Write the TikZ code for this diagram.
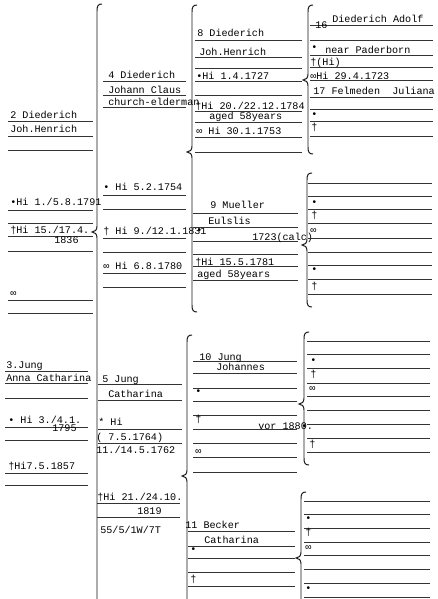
\documentclass[tikz,border=0pt]{standalone}
\usepackage{fontspec}
\usepackage{xcolor}
\newfontfamily\typer{Liberation Mono}

\begin{document}
\begin{tikzpicture}[x=0.025cm, y=-0.025cm,
	entry/.style={anchor=base west, inner sep=0pt, text=black, font=\typer\fontsize{7.2}{8}\selectfont},
	rule/.style={line width=0.45pt, color=black!80},
	brace/.style={line width=0.7pt, color=black!90}]
	\useasboundingbox[fill=white] (0,0) rectangle (437,599);

	% Braces: x, top, tip, bottom
	\foreach \bx/\bt/\bm/\bb in {97/4/232/620, 192/5/152/312, 187/335/476/620,
		308/5/80/154, 307/173/245/307, 304/332/404/465, 301/492/558/625}
		\draw[brace] ({\bx+5},\bt) .. controls ({\bx+1},\bt) and (\bx,{\bt+2}) .. (\bx,{\bt+7})
			-- (\bx,{\bm-6}) .. controls (\bx,{\bm-2}) and ({\bx-2},\bm) .. ({\bx-5},\bm)
			.. controls ({\bx-2},\bm) and (\bx,{\bm+2}) .. (\bx,{\bm+6})
			-- (\bx,{\bb-7}) .. controls (\bx,{\bb-2}) and ({\bx+1},\bb) .. ({\bx+5},\bb);

	\begin{scope}
		% Column 1: person 2 and person 3
		\foreach \y in {121,136,150,210,223,236,251,300,313}
			\draw[rule] (8,\y) -- (93,\y);
		\foreach \y in {371,383,398,427,440,473,485}
			\draw[rule] (5,\y) -- (88,\y);

		\node[entry] (p2a) at (10,118) {2 Diederich};
		\node[entry] (p2b) at (10,132) {Joh.Henrich};
		\node[entry] (p2c) at (10,205) {•Hi 1./5.8.1791};
		\node[entry] (p2d) at (10,233) {†Hi 15./17.4.};
		\node[entry] (p2e) at (54,243) {1836};
		\node[entry] (p2f) at (10,296) {∞};

		\node[entry] (p3a) at (6,368) {3.Jung};
		\node[entry] (p3b) at (6,381) {Anna Catharina};
		\node[entry] (p3c) at (8,423) {• Hi 3./4.1.};
		\node[entry] (p3d) at (52,431) {1795};
		\node[entry] (p3e) at (8,469) {†Hi7.5.1857};
	\end{scope}

	\begin{scope}
		% Column 2: persons 4 and 5
		\foreach \y in {81,95,107,195,209,238,252,273,287}
			\draw[rule] (103,\y) -- (186,\y);
		\foreach \y in {384,400,429,443}
			\draw[rule] (98,\y) -- (182,\y);
		\foreach \y in {503,517}
			\draw[rule] (97,\y) -- (180,\y);

		\node[entry] (p4a) at (108,78) {4 Diederich};
		\node[entry] (p4b) at (108,93) {Johann Claus};
		\node[entry] (p4c) at (108,105) {church-elderman};
		\node[entry] (p4d) at (103,190) {• Hi 5.2.1754};
		\node[entry] (p4e) at (103,234) {† Hi 9./12.1.1831};
		\node[entry] (p4f) at (103,269) {∞ Hi 6.8.1780};

		\node[entry] (p5a) at (102,382) {5 Jung};
		\node[entry] (p5b) at (108,397) {Catharina};
		\node[entry] (p5c) at (98,425) {* Hi};
		\node[entry] (p5d) at (96,440) {( 7.5.1764)};
		\node[entry] (p5e) at (96,453) {11./14.5.1762};
		\node[entry] (p5f) at (97,500) {†Hi 21./24.10.};
		\node[entry] (p5g) at (137,514) {1819};
		\node[entry] (p5h) at (100,533) {55/5/1W/7T};
	\end{scope}

	\begin{scope}
		% Column 3: persons 8 to 11
		\foreach \y in {40,57,68,81,95,111,122,137,152}
			\draw[rule] (195,\y) -- (302,\y);
		\foreach \y in {213,227,241,254,266,280}
			\draw[rule] (193,\y) -- (298,\y);
		\foreach \y in {361,373,388,401,415,429,443,457,472}
			\draw[rule] (193,\y) -- (297,\y);
		\foreach \y in {531,546,558,572,586}
			\draw[rule] (188,\y) -- (295,\y);

		\node[entry] (p8a) at (197,36) {8 Diederich};
		\node[entry] (p8b) at (199,55) {Joh.Henrich};
		\node[entry] (p8c) at (196,79) {•Hi 1.4.1727};
		\node[entry] (p8d) at (195,109) {†Hi 20./22.12.1784};
		\node[entry] (p8e) at (209,119) {aged 58years};
		\node[entry] (p8f) at (196,134) {∞ Hi 30.1.1753};

		\node[entry] (p9a) at (210,208) {9 Mueller};
		\node[entry] (p9b) at (208,224) {Eulslis};
		\node[entry] (p9c) at (196,233) {•};
		\node[entry] (p9d) at (252,240) {1723(calc)};
		\node[entry] (p9e) at (195,265) {†Hi 15.5.1781};
		\node[entry] (p9f) at (197,277) {aged 58years};

		\node[entry] (p10a) at (199,360) {10 Jung};
		\node[entry] (p10b) at (216,370) {Johannes};
		\node[entry] (p10c) at (195,394) {•};
		\node[entry] (p10d) at (195,422) {†};
		\node[entry] (p10e) at (258,429) {vor 1880.};
		\node[entry] (p10f) at (195,454) {∞};

		\node[entry] (p11a) at (185,528) {11 Becker};
		\node[entry] (p11b) at (204,543) {Catharina};
		\node[entry] (p11c) at (190,552) {•};
		\node[entry] (p11d) at (190,582) {†};
	\end{scope}

	\begin{scope}
		% Column 4: persons 16 to 23
		\foreach \y in {25,40,55,67,80,97,109,121,136}
			\draw[rule] (310,\y) -- (433,\y);
		\foreach \y in {183,196,209,223,238,252,265,279,294}
			\draw[rule] (308,\y) -- (432,\y);
		\foreach \y in {341,354,368,383,396,410,424,438,452}
			\draw[rule] (307,\y) -- (430,\y);
		\foreach \y in {501,514,528,542,555,569,583,597}
			\draw[rule] (304,\y) -- (430,\y);

		\node[entry] (p16a) at (315,28) {16};
		\node[entry] (p16b) at (332,22) {Diederich Adolf};
		\node[entry] (p16c) at (311,50) {•};
		\node[entry] (p16d) at (325,53) {near Paderborn};
		\node[entry] (p16e) at (310,65) {†(Hi)};
		\node[entry] (p16f) at (310,79) {∞Hi 29.4.1723};
		\node[entry] (p17a) at (313,94) {17 Felmeden~~Juliana};
		\node[entry] (p17b) at (311,117) {•};
		\node[entry] (p17c) at (311,130) {†};

		\node[entry] (p18a) at (311,205) {•};
		\node[entry] (p18b) at (311,218) {†};
		\node[entry] (p18c) at (310,233) {∞};
		\node[entry] (p19a) at (311,272) {•};
		\node[entry] (p19b) at (311,289) {†};

		\node[entry] (p20a) at (310,363) {•};
		\node[entry] (p20b) at (310,377) {†};
		\node[entry] (p20c) at (309,391) {∞};
		\node[entry] (p21a) at (301,429) {•};
		\node[entry] (p21b) at (309,447) {†};

		\node[entry] (p22a) at (305,521) {•};
		\node[entry] (p22b) at (305,535) {†};
		\node[entry] (p22c) at (305,550) {∞};
		\node[entry] (p23a) at (305,591) {•};
	\end{scope}
\end{tikzpicture}
\end{document}
